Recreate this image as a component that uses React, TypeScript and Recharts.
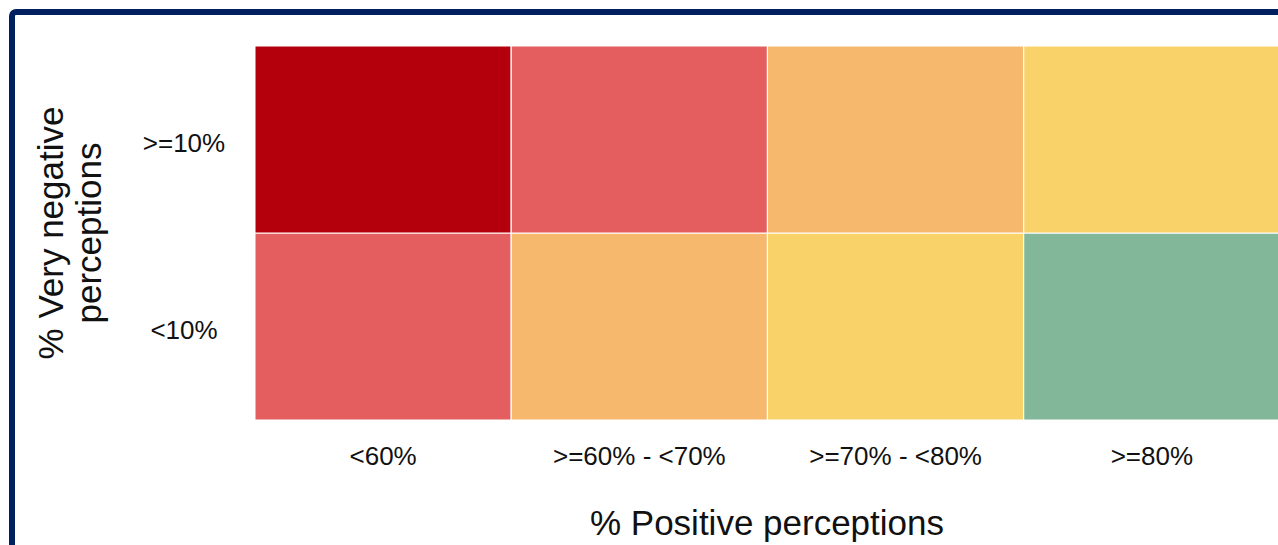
import { Bar, BarChart, Cell, XAxis, YAxis } from "recharts";

const positiveBands = ["<60%", ">=60% - <70%", ">=70% - <80%", ">=80%"];
const negativeBands = ["<10%", ">=10%"];

// rating level of each cell, 0 = worst, 4 = best
const highNegativeLevels = [0, 1, 2, 3];
const lowNegativeLevels = [1, 2, 3, 4];
const levelColors = ["#B4000D", "#E45E5F", "#F5B86D", "#F9D26A", "#82B799"];

const NAVY = "#002060";
const FONT = "'Liberation Sans', Arial, sans-serif";

const data = positiveBands.map((band, i) => ({
  band,
  low: 1,
  high: 1,
  lowLevel: lowNegativeLevels[i],
  highLevel: highNegativeLevels[i],
}));

function XTick(props: any) {
  const { x, payload } = props;
  return (
    <text x={x} y={465} textAnchor="middle" fontSize={26} fontFamily={FONT} fill="#111">
      {payload.value}
    </text>
  );
}

function YTick(props: any) {
  const { y, payload } = props;
  const label = payload.value < 1 ? negativeBands[0] : negativeBands[1];
  return (
    <text x={184} y={y + 12} textAnchor="middle" fontSize={26} fontFamily={FONT} fill="#111">
      {label}
    </text>
  );
}

function YTitle() {
  return (
    <g fontFamily={FONT} fontSize={35} fill="#111" textAnchor="middle">
      <text x={63} y={233} transform="rotate(-90, 63, 233)">% Very negative</text>
      <text x={101} y={233} transform="rotate(-90, 101, 233)">perceptions</text>
    </g>
  );
}

function XTitle() {
  return (
    <text x={767} y={535} textAnchor="middle" fontFamily={FONT} fontSize={35} fill="#111">
      % Positive perceptions
    </text>
  );
}

export default function App() {
  return (
    <div
      style={{
        position: "fixed",
        left: 0,
        top: 0,
        width: 1278,
        height: 545,
        overflow: "hidden",
        background: "#fff",
      }}
    >
      <div
        style={{
          position: "absolute",
          left: 9,
          top: 9,
          width: 1320,
          height: 620,
          border: `6px solid ${NAVY}`,
          borderRadius: 7,
          boxSizing: "border-box",
        }}
      />
      <div style={{ position: "absolute", left: 0, top: 0 }}>
        <BarChart
          width={1280}
          height={545}
          data={data}
          margin={{ top: 46, right: 0, bottom: 0, left: 0 }}
          barCategoryGap={0}
          barGap={0}
        >
          <XAxis
            dataKey="band"
            type="category"
            height={125}
            axisLine={false}
            tickLine={false}
            interval={0}
            tick={<XTick />}
            label={<XTitle />}
          />
          <YAxis
            type="number"
            domain={[0, 2]}
            ticks={[0.5, 1.5]}
            width={255}
            axisLine={false}
            tickLine={false}
            tick={<YTick />}
            label={<YTitle />}
          />
          <Bar dataKey="low" stackId="cells" isAnimationActive={false} stroke="#fff" strokeWidth={1}>
            {data.map((d) => (
              <Cell key={`low-${d.band}`} fill={levelColors[d.lowLevel]} />
            ))}
          </Bar>
          <Bar dataKey="high" stackId="cells" isAnimationActive={false} stroke="#fff" strokeWidth={1}>
            {data.map((d) => (
              <Cell key={`high-${d.band}`} fill={levelColors[d.highLevel]} />
            ))}
          </Bar>
        </BarChart>
      </div>
    </div>
  );
}
